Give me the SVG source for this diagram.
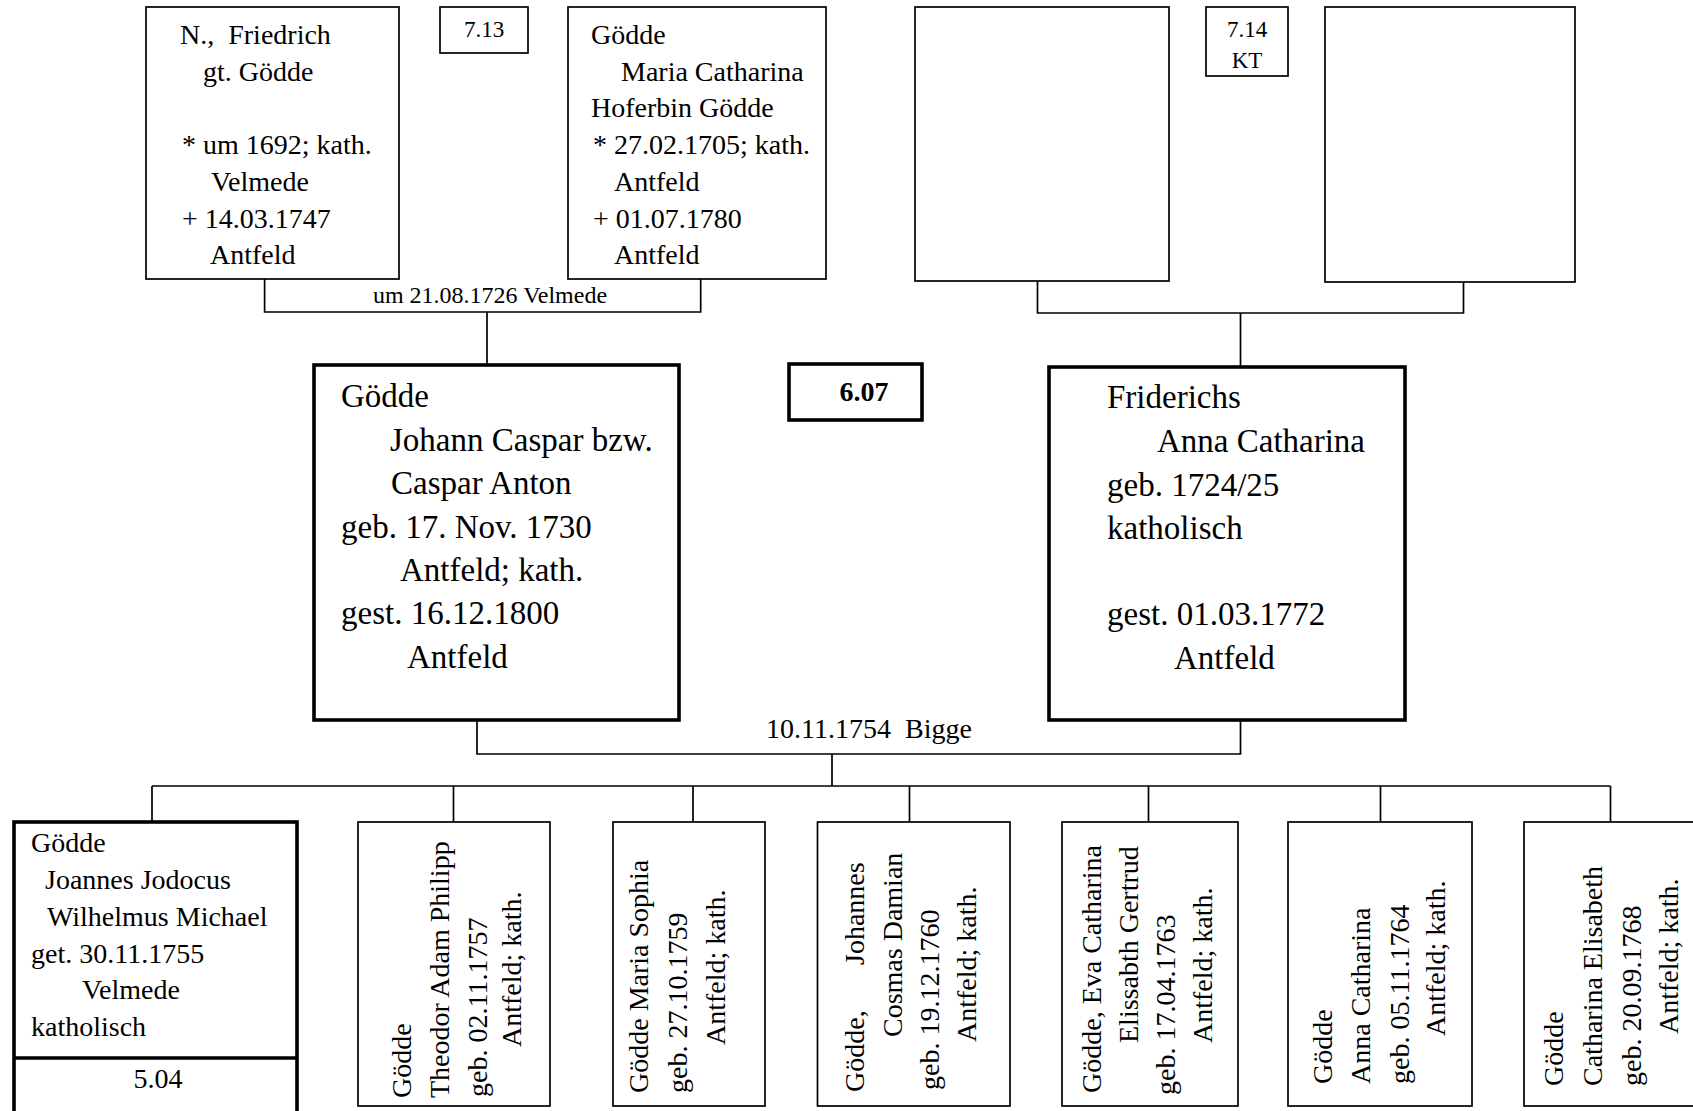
<svg xmlns="http://www.w3.org/2000/svg" width="1693" height="1111" viewBox="0 0 1693 1111">
<style>
text{font-family:"Liberation Serif","Times New Roman",serif;fill:#000}
.t28{font-size:28px}
.t33{font-size:33px}
.t23{font-size:23px}
.box{fill:#fff;stroke:#000;stroke-width:1.7}
.thick{fill:#fff;stroke:#000;stroke-width:3.6}
.conn{fill:none;stroke:#000;stroke-width:1.7}
.mid{text-anchor:middle}
</style>
<rect width="1693" height="1111" fill="#fff"/>
<g id="connectors">
<path class="conn" d="M264.6,279 V312 H700.7 V279 M487,312 V365"/>
<path class="conn" d="M1037.5,281 V313 H1463.5 V282 M1240.5,313 V367"/>
<path class="conn" d="M477,720 V754 H1240.5 V720 M832,754 V786"/>
<path class="conn" d="M152,786 H1610.5 M152,786 V822 M453.5,786 V822 M693,786 V822 M909.5,786 V822 M1148.5,786 V822 M1380.5,786 V822 M1610.5,786 V822"/>
<text class="mid" x="490" y="303" style="font-size:24px">um 21.08.1726 Velmede</text>
<text class="mid t28" x="869" y="738" xml:space="preserve">10.11.1754  Bigge</text>
</g>
<g id="n713">
<rect class="box" x="440" y="7" width="88" height="46"/>
<text class="mid t23" x="484" y="37">7.13</text>
</g>
<g id="n714">
<rect class="box" x="1206" y="7" width="82" height="69"/>
<text class="mid t23" x="1247" y="37">7.14</text>
<text class="mid t23" x="1247" y="68">KT</text>
</g>
<g id="friedrich">
<rect class="box" x="146" y="7" width="253" height="272"/>
<text class="t28" x="180" y="43.5" xml:space="preserve">N.,  Friedrich</text>
<text class="t28" x="203" y="80.5">gt. Gödde</text>
<text class="t28" x="182" y="153.5">* um 1692; kath.</text>
<text class="t28" x="211" y="190.5">Velmede</text>
<text class="t28" x="182" y="227.5">+ 14.03.1747</text>
<text class="t28" x="210" y="264">Antfeld</text>
</g>
<g id="maria">
<rect class="box" x="568" y="7" width="258" height="272"/>
<text class="t28" x="591" y="43.5">Gödde</text>
<text class="t28" x="621" y="80.5">Maria Catharina</text>
<text class="t28" x="591" y="117">Hoferbin Gödde</text>
<text class="t28" x="593" y="153.5">* 27.02.1705; kath.</text>
<text class="t28" x="614" y="190.5">Antfeld</text>
<text class="t28" x="593" y="227.5">+ 01.07.1780</text>
<text class="t28" x="614" y="264">Antfeld</text>
</g>
<g id="empty1"><rect class="box" x="915" y="7" width="254" height="274"/></g>
<g id="empty2"><rect class="box" x="1325" y="7" width="250" height="275"/></g>
<g id="johann">
<rect class="thick" x="314" y="365" width="365" height="355"/>
<text class="t33" x="341" y="407">Gödde</text>
<text class="t33" x="390" y="450.5">Johann Caspar bzw.</text>
<text class="t33" x="391" y="494">Caspar Anton</text>
<text class="t33" x="341" y="537.5">geb. 17. Nov. 1730</text>
<text class="t33" x="400" y="581">Antfeld; kath.</text>
<text class="t33" x="341" y="624">gest. 16.12.1800</text>
<text class="t33" x="407" y="667.5">Antfeld</text>
</g>
<g id="n607">
<rect class="thick" x="789" y="364" width="133" height="56"/>
<text class="mid t28" x="864" y="401" font-weight="bold">6.07</text>
</g>
<g id="anna">
<rect class="thick" x="1049" y="367" width="356" height="353"/>
<text class="t33" x="1107" y="408">Friderichs</text>
<text class="t33" x="1157" y="452">Anna Catharina</text>
<text class="t33" x="1107" y="495.5">geb. 1724/25</text>
<text class="t33" x="1107" y="538.5">katholisch</text>
<text class="t33" x="1107" y="625">gest. 01.03.1772</text>
<text class="t33" x="1174" y="668.5">Antfeld</text>
</g>
<g id="joannes">
<rect class="thick" x="14" y="822" width="283" height="310"/>
<line x1="14" y1="1058" x2="297" y2="1058" stroke="#000" stroke-width="3.6"/>
<text class="t28" x="31" y="851.5">Gödde</text>
<text class="t28" x="45" y="888.5">Joannes Jodocus</text>
<text class="t28" x="47" y="925.5">Wilhelmus Michael</text>
<text class="t28" x="31" y="962.5">get. 30.11.1755</text>
<text class="t28" x="82" y="999">Velmede</text>
<text class="t28" x="31" y="1036">katholisch</text>
<text class="mid t28" x="158" y="1088">5.04</text>
</g>
<g id="theodor">
<rect class="box" x="358" y="822" width="192" height="284"/>
<text class="t28" transform="translate(411,1098) rotate(-90)">Gödde</text>
<text class="t28" transform="translate(448.5,1098) rotate(-90)">Theodor Adam Philipp</text>
<text class="t28" transform="translate(486.5,1097) rotate(-90)">geb. 02.11.1757</text>
<text class="t28" transform="translate(521,1047) rotate(-90)">Antfeld; kath.</text>
</g>
<g id="sophia">
<rect class="box" x="613" y="822" width="152" height="284"/>
<text class="t28" transform="translate(648,1093) rotate(-90)">Gödde Maria Sophia</text>
<text class="t28" transform="translate(687,1093) rotate(-90)">geb. 27.10.1759</text>
<text class="t28" transform="translate(724.5,1045) rotate(-90)">Antfeld; kath.</text>
</g>
<g id="cosmas">
<rect class="box" x="817.5" y="822" width="192.5" height="284"/>
<text class="t28" transform="translate(864,1092) rotate(-90)">Gödde,</text>
<text class="t28" transform="translate(864,965) rotate(-90)">Johannes</text>
<text class="t28" transform="translate(902,1037) rotate(-90)">Cosmas Damian</text>
<text class="t28" transform="translate(939,1090) rotate(-90)">geb. 19.12.1760</text>
<text class="t28" transform="translate(976,1042) rotate(-90)">Antfeld; kath.</text>
</g>
<g id="eva">
<rect class="box" x="1062" y="822" width="176" height="284"/>
<text class="t28" transform="translate(1101,1093) rotate(-90)">Gödde, Eva Catharina</text>
<text class="t28" transform="translate(1137.5,1043) rotate(-90)">Elissabth Gertrud</text>
<text class="t28" transform="translate(1175,1095) rotate(-90)">geb. 17.04.1763</text>
<text class="t28" transform="translate(1211.5,1043) rotate(-90)">Antfeld; kath.</text>
</g>
<g id="annacath">
<rect class="box" x="1288" y="822" width="184" height="284"/>
<text class="t28" transform="translate(1332,1084) rotate(-90)">Gödde</text>
<text class="t28" transform="translate(1370,1084) rotate(-90)">Anna Catharina</text>
<text class="t28" transform="translate(1408.5,1084) rotate(-90)">geb. 05.11.1764</text>
<text class="t28" transform="translate(1445,1036) rotate(-90)">Antfeld; kath.</text>
</g>
<g id="elisabeth">
<rect class="box" x="1524" y="822" width="190" height="284"/>
<text class="t28" transform="translate(1563,1086) rotate(-90)">Gödde</text>
<text class="t28" transform="translate(1601.5,1086) rotate(-90)">Catharina Elisabeth</text>
<text class="t28" transform="translate(1640.5,1086) rotate(-90)">geb. 20.09.1768</text>
<text class="t28" transform="translate(1678,1034) rotate(-90)">Antfeld; kath.</text>
</g>
</svg>
